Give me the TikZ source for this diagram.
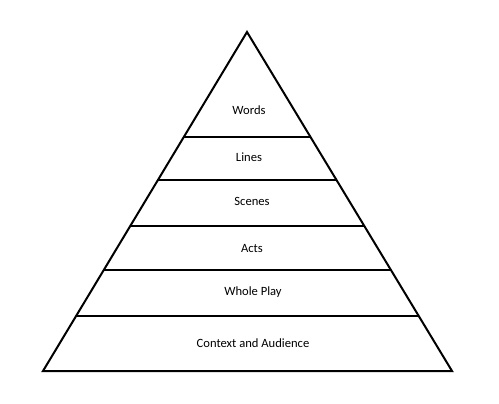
\documentclass[tikz,border=0pt]{standalone}
\usepackage{fontspec}
\setmainfont{Carlito}
\usetikzlibrary{calc}
\tikzstyle{layer} = [font=\fontsize{12.6}{15}\selectfont, inner sep=0pt, text height=8pt, text depth=0pt]
\tikzstyle{edge} = [line width=2pt, line join=miter]

\begin{document}
\begin{tikzpicture}[x=1pt, y=-1pt]
        \useasboundingbox (0,0) rectangle (499,404);
        % corners
        \coordinate (apex) at (247,32);
        \coordinate (left) at (43,371);
        \coordinate (right) at (452,371);
        \draw [edge] (apex) -- (left) -- (right) -- cycle;

        % layer lines
        \foreach \t in {0.3097, 0.4366, 0.5723, 0.7020, 0.8378} {
            \draw [edge] ($(apex)!\t!(left)$) -- ($(apex)!\t!(right)$);
        }

        % labels
        \node [layer] (words) at (249,111) {Words};
        \node [layer] (lines) at (249,157) {Lines};
        \node [layer] (scenes) at (252,202) {Scenes};
        \node [layer] (acts) at (252,248) {Acts};
        \node [layer] (play) at (253,291) {Whole Play};
        \node [layer] (context) at (253,343) {Context and Audience};
\end{tikzpicture}
\end{document}
